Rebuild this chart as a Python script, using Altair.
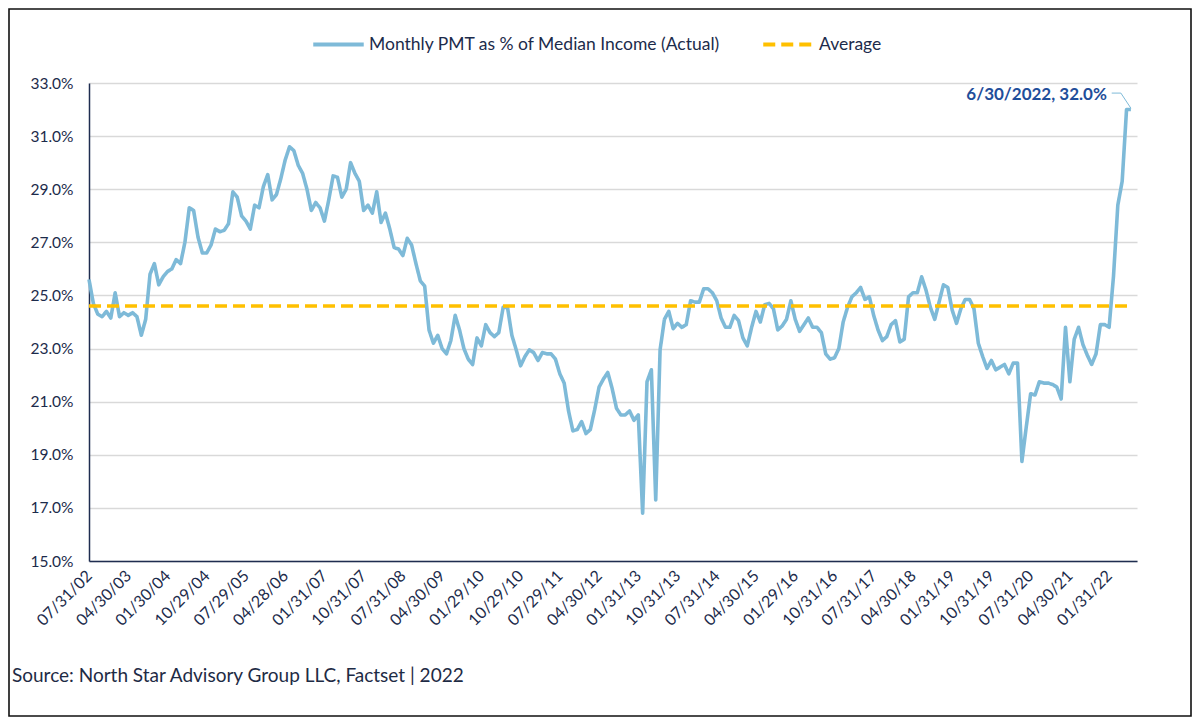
import altair as alt
import pandas as pd

# ---- data (monthly, Jul-2002 .. Jun-2022), % of median income ----
y02_03 = [25.6, 24.7, 24.3, 24.2, 24.4, 24.15, 25.1, 24.2, 24.35, 24.25, 24.35, 24.2]
y03_04 = [23.5, 24.1, 25.8, 26.2, 25.4, 25.7, 25.9, 26.0, 26.35, 26.2, 27.0, 28.3]
y04_05 = [28.2, 27.2, 26.6, 26.6, 26.9, 27.5, 27.4, 27.45, 27.7, 28.9, 28.7, 28.0]
y05_06 = [27.8, 27.5, 28.4, 28.3, 29.1, 29.55, 28.6, 28.8, 29.4, 30.1, 30.6, 30.45]
y06_07 = [29.9, 29.6, 29.0, 28.2, 28.5, 28.3, 27.8, 28.6, 29.5, 29.45, 28.7, 29.0]
y07_08 = [30.0, 29.6, 29.3, 28.2, 28.4, 28.1, 28.9, 27.75, 28.1, 27.5, 26.8, 26.75]
y08_09 = [26.5, 27.15, 26.9, 26.2, 25.55, 25.35, 23.7, 23.2, 23.5, 23.0, 22.8, 23.3]
y09_10 = [24.25, 23.7, 23.0, 22.6, 22.4, 23.4, 23.1, 23.9, 23.6, 23.45, 23.6, 24.55]
y10_11 = [24.55, 23.5, 22.95, 22.35, 22.7, 22.95, 22.85, 22.55, 22.85, 22.8, 22.8, 22.6]
y11_12 = [22.05, 21.7, 20.65, 19.9, 19.95, 20.25, 19.8, 19.95, 20.7, 21.55, 21.85, 22.1]
y12_13 = [21.5, 20.75, 20.5, 20.5, 20.65, 20.3, 20.5, 16.8, 21.75, 22.2, 17.3, 22.95]
y13_14 = [24.1, 24.4, 23.75, 23.95, 23.8, 23.9, 24.8, 24.75, 24.75, 25.25, 25.25, 25.1]
y14_15 = [24.8, 24.15, 23.8, 23.8, 24.25, 24.05, 23.4, 23.1, 23.8, 24.4, 24.0, 24.65]
y15_16 = [24.7, 24.5, 23.7, 23.85, 24.1, 24.8, 24.1, 23.65, 23.9, 24.15, 23.8, 23.8]
y16_17 = [23.6, 22.8, 22.6, 22.65, 23.0, 24.0, 24.55, 24.95, 25.1, 25.3, 24.85, 24.95]
y17_18 = [24.25, 23.7, 23.3, 23.45, 23.9, 24.05, 23.25, 23.35, 24.95, 25.1, 25.1, 25.7]
y18_19 = [25.2, 24.55, 24.1, 24.75, 25.4, 25.3, 24.45, 23.95, 24.5, 24.85, 24.85, 24.5]
y19_20 = [23.2, 22.7, 22.25, 22.55, 22.2, 22.3, 22.4, 22.05, 22.45, 22.45, 18.75, 20.05]
y20_21 = [21.3, 21.25, 21.75, 21.7, 21.7, 21.65, 21.55, 21.1, 23.8, 21.75, 23.35, 23.8]
y21_22 = [23.15, 22.75, 22.4, 22.8, 23.9, 23.9, 23.8, 25.7, 28.4, 29.3, 32.0, 32.0]

average_pct = 24.6

tick_labels = ["07/31/02", "04/30/03", "01/30/04", "10/29/04", "07/29/05", "04/28/06",
               "01/31/07", "10/31/07", "07/31/08", "04/30/09", "01/29/10", "10/29/10",
               "07/29/11", "04/30/12", "01/31/13", "10/31/13", "07/31/14", "04/30/15",
               "01/29/16", "10/31/16", "07/31/17", "04/30/18", "01/31/19", "10/31/19",
               "07/31/20", "04/30/21", "01/31/22"]
tick_step = 9

series_name = "Monthly PMT as % of Median Income (Actual)"
avg_name = "Average"
last_label = "6/30/2022, 32.0%"
source_text = "Source: North Star Advisory Group LLC, Factset | 2022"

# ---- build tables ----
values = (y02_03 + y03_04 + y04_05 + y05_06 + y06_07 + y07_08 + y08_09 + y09_10 +
          y10_11 + y11_12 + y12_13 + y13_14 + y14_15 + y15_16 + y16_17 + y17_18 +
          y18_19 + y19_20 + y20_21 + y21_22)
n = len(values)
months = list(range(n))
df_main = pd.DataFrame({"m": months, "v": values, "s": series_name})
df_avg = pd.DataFrame({"m": months, "v": [average_pct] * n, "s": avg_name})
last_m, last_v = months[-1], values[-1]
df_last = pd.DataFrame({"m": [last_m], "v": [last_v], "t": [last_label]})
df_leader = pd.DataFrame({"m": [last_m - 4.4, last_m - 2.3, last_m],
                          "v": [last_v + 0.62, last_v + 0.62, last_v + 0.05]})
df_one = pd.DataFrame({"t": [source_text]})

NAVY = "#1C2B4B"
BLUE = "#7EBAD8"
GOLD = "#FFC000"
FONT = "Lato"

label_arr = "[" + ",".join("'%s'" % s for s in tick_labels) + "]"
x_scale = alt.Scale(domain=[0, 240.4], nice=False, zero=False)
y_scale = alt.Scale(domain=[15, 33], nice=False, zero=False)

x_axis = alt.Axis(values=[i * tick_step for i in range(len(tick_labels))],
                  labelExpr=label_arr + "[round(datum.value/%d)]" % tick_step,
                  labelAngle=315, labelAlign="right", labelBaseline="middle",
                  labelPadding=12, ticks=False, grid=False, title=None,
                  domainColor="#1F2D50", domainWidth=1.5,
                  labelColor=NAVY, labelFontSize=16, labelFont=FONT,
                  labelOverlap=False, labelBound=False, labelFlush=False)
y_axis = alt.Axis(values=list(range(15, 34, 2)),
                  labelExpr="format(datum.value, '.1f') + '%'",
                  ticks=False, grid=True, gridColor="#D9D9D9", gridWidth=1.3,
                  domainColor="#1F2D50", domainWidth=1.5, title=None,
                  labelPadding=16, labelColor=NAVY, labelFontSize=15.5, labelFont=FONT)

color = alt.Color("s:N", scale=alt.Scale(domain=[series_name, avg_name], range=[BLUE, GOLD]),
                  legend=alt.Legend(orient="none", legendX=222, legendY=-66,
                                    direction="horizontal", columns=2, title=None,
                                    symbolType="stroke", symbolSize=2550,
                                    symbolStrokeWidth=4, labelFontSize=17.5,
                                    labelFont=FONT, labelColor=NAVY, labelLimit=0,
                                    labelOffset=3, columnPadding=34))
dash = alt.StrokeDash("s:N", scale=alt.Scale(domain=[series_name, avg_name],
                                               range=[[1, 0], [12, 6]]), legend=None)

base_x = alt.X("m:Q", scale=x_scale, axis=x_axis)
base_y = alt.Y("v:Q", scale=y_scale, axis=y_axis)

line_main = alt.Chart(df_main).mark_line(strokeWidth=3.6, strokeJoin="round").encode(
    x=base_x, y=base_y, color=color, strokeDash=dash)
line_avg = alt.Chart(df_avg).mark_line(strokeWidth=3.4).encode(
    x="m:Q", y="v:Q", color=color, strokeDash=dash)
leader = alt.Chart(df_leader).mark_line(strokeWidth=1, color=BLUE).encode(
    x="m:Q", y="v:Q")
ann = alt.Chart(df_last).mark_text(align="right", baseline="middle", dx=-24, dy=-15,
                                   fontSize=17, fontWeight="bold", font=FONT,
                                   color="#1F4E9A").encode(x="m:Q", y="v:Q", text="t:N")
src = alt.Chart(df_one).mark_text(align="left", baseline="middle", fontSize=19,
                                  font=FONT, color="#1E2B45").encode(
    x=alt.value(-77), y=alt.value(593), text="t:N")
frame = alt.Chart(df_one).mark_rect(fillOpacity=0, stroke="#111111", strokeWidth=1.6).encode(
    x=alt.value(-80), x2=alt.value(1102), y=alt.value(-74), y2=alt.value(633))

chart = alt.layer(line_main, line_avg, leader, ann, src, frame).properties(
    width=1048, height=478,
    autosize=alt.AutoSizeParams(type="none"),
    padding={"left": 81, "top": 75, "right": 55, "bottom": 157},
    background="white",
).configure_view(stroke=None)

chart.save("out.html", embed_options={"renderer": "svg", "actions": False})
